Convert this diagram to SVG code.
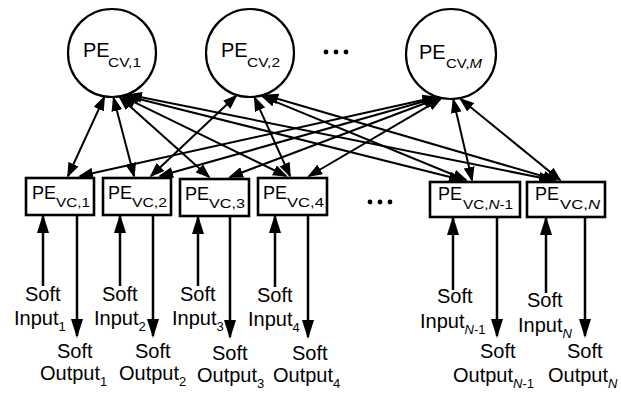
<svg xmlns="http://www.w3.org/2000/svg" width="621" height="393" viewBox="0 0 621 393">
  <defs>
    <!-- small filled head used on both ends of the check/variable links -->
    <marker id="ah" markerUnits="userSpaceOnUse" viewBox="0 0 15 11" markerWidth="15" markerHeight="11" refX="13" refY="5.5" orient="auto-start-reverse">
      <path d="M0,0 L15,5.5 L0,11 z" fill="#000"/>
    </marker>
    <!-- larger head for the soft input / output arrows -->
    <marker id="big" markerUnits="userSpaceOnUse" viewBox="0 0 19 12" markerWidth="19" markerHeight="12" refX="17" refY="6" orient="auto">
      <path d="M0,0 L19,6 L0,12 z" fill="#000"/>
    </marker>
  </defs>
  <style>
    text { font-family: "Liberation Sans", Arial, Helvetica, sans-serif; fill: #000; }
    .cv { fill: #fff; stroke: #000; stroke-width: 2.2; }
    .vc { fill: #fff; stroke: #000; stroke-width: 2.6; }
    .e { stroke: #000; stroke-width: 2; fill: none; marker-start: url(#ah); marker-end: url(#ah); }
    .io { stroke: #000; stroke-width: 2.5; fill: none; marker-end: url(#big); }
    .pe { font-size: 20px; }
    .sub { font-size: 13px; }
    .bpe { font-size: 18px; }
    .bsub { font-size: 12px; }
    .lbl { font-size: 20px; }
    .lsub { font-size: 13px; }
    .dot { fill: #000; }
  </style>
  <rect width="621" height="393" fill="#fff"/>

  <!-- links between check nodes and variable nodes -->
  <g id="connectors">
    <!-- PE_CV,1 -->
    <line class="e" x1="104.2" y1="97.3" x2="68" y2="176"/>
    <line class="e" x1="113.6" y1="98" x2="134" y2="176"/>
    <line class="e" x1="119.8" y1="97.3" x2="209" y2="177"/>
    <line class="e" x1="122.9" y1="96.7" x2="286" y2="176"/>
    <line class="e" x1="125.9" y1="95.8" x2="462" y2="180"/>
    <line class="e" x1="128.9" y1="94.7" x2="552" y2="180"/>
    <!-- PE_CV,2 -->
    <line class="e" x1="236.1" y1="95.8" x2="151" y2="176"/>
    <line class="e" x1="254.7" y1="97.8" x2="290" y2="176"/>
    <line class="e" x1="262.4" y1="96.3" x2="466" y2="180"/>
    <line class="e" x1="265.4" y1="95.3" x2="556" y2="180"/>
    <!-- PE_CV,M -->
    <line class="e" x1="435.3" y1="97.2" x2="80" y2="176"/>
    <line class="e" x1="436.8" y1="97.7" x2="160" y2="176"/>
    <line class="e" x1="438.3" y1="98.2" x2="230" y2="177"/>
    <line class="e" x1="440.7" y1="98.8" x2="309" y2="176"/>
    <line class="e" x1="453.4" y1="99.9" x2="472" y2="180"/>
    <line class="e" x1="460.6" y1="99" x2="560" y2="180"/>

    <!-- soft inputs (up) and soft outputs (down) -->
    <line class="io" x1="43" y1="286" x2="43" y2="216"/>
    <line class="io" x1="77" y1="216" x2="77" y2="336"/>
    <line class="io" x1="120" y1="286" x2="120" y2="216"/>
    <line class="io" x1="153" y1="216" x2="153" y2="336"/>
    <line class="io" x1="198" y1="286" x2="198" y2="217"/>
    <line class="io" x1="230" y1="217" x2="230" y2="337"/>
    <line class="io" x1="275" y1="287" x2="275" y2="216"/>
    <line class="io" x1="308" y1="216" x2="308" y2="337"/>
    <line class="io" x1="453" y1="290" x2="453" y2="218"/>
    <line class="io" x1="497" y1="218" x2="497" y2="336"/>
    <line class="io" x1="546" y1="293" x2="546" y2="218"/>
    <line class="io" x1="585" y1="218" x2="585" y2="336"/>
  </g>

  <!-- check-node processing elements -->
  <g id="pe-cv-1">
    <circle class="cv" cx="112" cy="53" r="44"/>
    <text class="pe" x="83" y="57">PE</text>
    <text class="sub" x="108" y="67" textLength="33" lengthAdjust="spacingAndGlyphs">CV,1</text>
  </g>
  <g id="pe-cv-2">
    <circle class="cv" cx="250" cy="53" r="44"/>
    <text class="pe" x="221" y="57">PE</text>
    <text class="sub" x="247" y="67" textLength="33" lengthAdjust="spacingAndGlyphs">CV,2</text>
  </g>
  <g id="pe-cv-m">
    <circle class="cv" cx="451" cy="54" r="45"/>
    <text class="pe" x="419" y="59">PE</text>
    <text class="sub" x="446" y="68" textLength="36" lengthAdjust="spacingAndGlyphs">CV,<tspan font-style="italic">M</tspan></text>
  </g>
  <g id="cv-ellipsis">
    <circle class="dot" cx="326" cy="52" r="2.4"/>
    <circle class="dot" cx="336" cy="52" r="2.4"/>
    <circle class="dot" cx="346" cy="52" r="2.4"/>
  </g>

  <!-- variable-node processing elements -->
  <g id="pe-vc-1">
    <rect class="vc" x="26" y="178" width="68" height="37"/>
    <text class="bpe" x="32" y="199">PE</text>
    <text class="bsub" x="56" y="207" textLength="34" lengthAdjust="spacingAndGlyphs">VC,1</text>
  </g>
  <g id="pe-vc-2">
    <rect class="vc" x="103" y="178" width="68" height="37"/>
    <text class="bpe" x="108" y="199">PE</text>
    <text class="bsub" x="132" y="207" textLength="35" lengthAdjust="spacingAndGlyphs">VC,2</text>
  </g>
  <g id="pe-vc-3">
    <rect class="vc" x="180" y="179" width="69" height="37"/>
    <text class="bpe" x="185" y="200">PE</text>
    <text class="bsub" x="209" y="208" textLength="36" lengthAdjust="spacingAndGlyphs">VC,3</text>
  </g>
  <g id="pe-vc-4">
    <rect class="vc" x="258" y="178" width="69" height="37"/>
    <text class="bpe" x="263" y="199">PE</text>
    <text class="bsub" x="287" y="207" textLength="37" lengthAdjust="spacingAndGlyphs">VC,4</text>
  </g>
  <g id="vc-ellipsis">
    <circle class="dot" cx="370" cy="202" r="2.4"/>
    <circle class="dot" cx="380" cy="202" r="2.4"/>
    <circle class="dot" cx="390" cy="202" r="2.4"/>
  </g>
  <g id="pe-vc-n-1">
    <rect class="vc" x="430" y="182" width="90" height="35"/>
    <text class="bpe" x="438" y="200">PE</text>
    <text class="bsub" x="463" y="209" textLength="50" lengthAdjust="spacingAndGlyphs">VC,<tspan font-style="italic">N</tspan>-1</text>
  </g>
  <g id="pe-vc-n">
    <rect class="vc" x="527" y="182" width="78" height="35"/>
    <text class="bpe" x="535" y="200">PE</text>
    <text class="bsub" x="560" y="209" textLength="40" lengthAdjust="spacingAndGlyphs">VC,<tspan font-style="italic">N</tspan></text>
  </g>

  <!-- soft input / output labels -->
  <g id="io-1">
    <text class="lbl" x="25" y="301">Soft</text>
    <text class="lbl" x="14" y="325">Input<tspan class="lsub" dy="6">1</tspan></text>
    <text class="lbl" x="57" y="358">Soft</text>
    <text class="lbl" x="40" y="380">Output<tspan class="lsub" dy="6">1</tspan></text>
  </g>
  <g id="io-2">
    <text class="lbl" x="102" y="301">Soft</text>
    <text class="lbl" x="94" y="325">Input<tspan class="lsub" dy="6">2</tspan></text>
    <text class="lbl" x="135" y="358">Soft</text>
    <text class="lbl" x="119" y="380">Output<tspan class="lsub" dy="6">2</tspan></text>
  </g>
  <g id="io-3">
    <text class="lbl" x="180" y="301">Soft</text>
    <text class="lbl" x="172" y="325">Input<tspan class="lsub" dy="6">3</tspan></text>
    <text class="lbl" x="212" y="360">Soft</text>
    <text class="lbl" x="197" y="382">Output<tspan class="lsub" dy="6">3</tspan></text>
  </g>
  <g id="io-4">
    <text class="lbl" x="257" y="302">Soft</text>
    <text class="lbl" x="248" y="326">Input<tspan class="lsub" dy="6">4</tspan></text>
    <text class="lbl" x="292" y="360">Soft</text>
    <text class="lbl" x="273" y="382">Output<tspan class="lsub" dy="6">4</tspan></text>
  </g>
  <g id="io-n-1">
    <text class="lbl" x="437" y="303">Soft</text>
    <text class="lbl" x="420" y="328">Input<tspan class="lsub" dy="6"><tspan font-style="italic">N</tspan>-1</tspan></text>
    <text class="lbl" x="480" y="358">Soft</text>
    <text class="lbl" x="453" y="382">Output<tspan class="lsub" dy="6"><tspan font-style="italic">N</tspan>-1</tspan></text>
  </g>
  <g id="io-n">
    <text class="lbl" x="527" y="307">Soft</text>
    <text class="lbl" x="518" y="332">Input<tspan class="lsub" dy="6" font-style="italic">N</tspan></text>
    <text class="lbl" x="567" y="358">Soft</text>
    <text class="lbl" x="548" y="382">Output<tspan class="lsub" dy="6" font-style="italic">N</tspan></text>
  </g>
</svg>
